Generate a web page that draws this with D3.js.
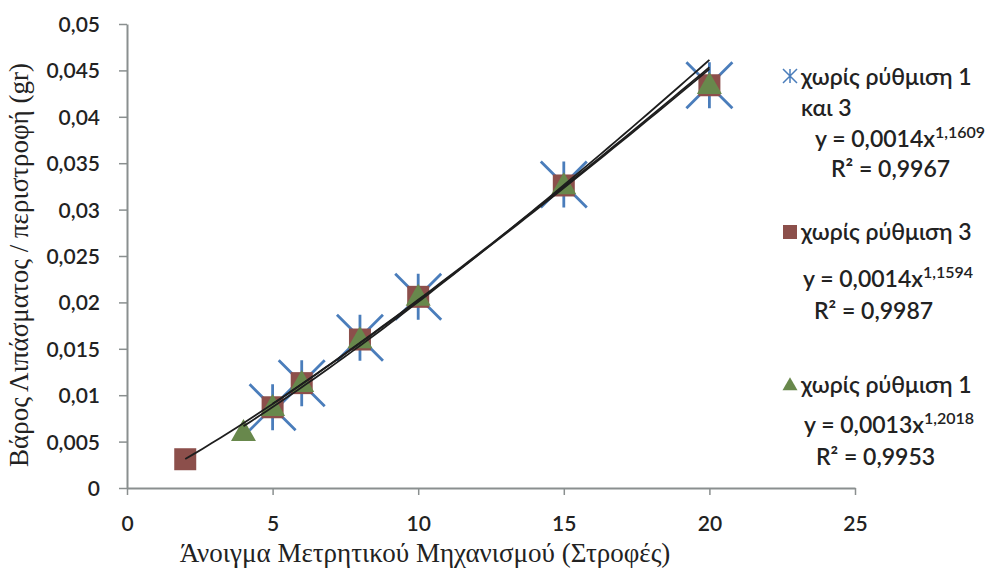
<!DOCTYPE html>
<html>
<head>
<meta charset="utf-8">
<script src="https://cdn.jsdelivr.net/npm/d3@7/dist/d3.min.js"></script>
<style>
  body { margin: 0; background: #ffffff; }
  svg { display: block; }
</style>
</head>
<body>
<script>
// Application rate per revolution vs. metering opening (turns)
const seriesNames = ["χωρίς ρύθμιση 1 και 3", "χωρίς ρύθμιση 3", "χωρίς ρύθμιση 1"];

const xBoth = [5, 6, 8, 10, 15, 20];
const yBoth = [0.0087, 0.0113, 0.0162, 0.0206, 0.0327, 0.0434];

const xNo3 = [2, 5, 6, 8, 10, 15, 20];
const yNo3 = [0.0031, 0.0087, 0.0113, 0.0160, 0.0206, 0.0326, 0.0434];

const xNo1 = [4, 5, 6, 8, 10, 15, 20];
const yNo1 = [0.0060, 0.0087, 0.0113, 0.0160, 0.0206, 0.0326, 0.0434];

// Power trendlines y = a * x^b
const fitA = [0.0014, 0.0014, 0.00126];
const fitB = [1.1609, 1.1594, 1.2018];
const fitR2 = [0.9967, 0.9987, 0.9953];

const xTicks = [0, 5, 10, 15, 20, 25];
const xTickLabels = ["0", "5", "10", "15", "20", "25"];
const yTicks = [0, 0.005, 0.01, 0.015, 0.02, 0.025, 0.03, 0.035, 0.04, 0.045, 0.05];
const yTickLabels = ["0", "0,005", "0,01", "0,015", "0,02", "0,025", "0,03", "0,035", "0,04", "0,045", "0,05"];

const xTitle = "Άνοιγμα Μετρητικού Μηχανισμού (Στροφές)";
const yTitle = "Βάρος Λιπάσματος / περιστροφή (gr)";

const W = 985, H = 569;
const plot = { left: 127, right: 855, top: 24, bottom: 488 };

const colStar = "#4a7dbb", colSquare = "#8c4f4b", colTri = "#68884c";
const axisCol = "#8a8f8f", textCol = "#222222";
const sansFont = "Lato, 'Open Sans', sans-serif";
const serifFont = "'Liberation Serif', 'DejaVu Serif', serif";

const svg = d3.select("body").append("svg").attr("width", W).attr("height", H);

const x = d3.scaleLinear().domain([0, 25]).range([plot.left, plot.right]);
const y = d3.scaleLinear().domain([0, 0.05]).range([plot.bottom, plot.top]);

// Axes
const xAxis = d3.axisBottom(x).tickValues(xTicks).tickFormat((d, i) => xTickLabels[i]).tickSize(7).tickSizeOuter(0);
const yAxis = d3.axisLeft(y).tickValues(yTicks).tickFormat((d, i) => yTickLabels[i]).tickSize(8).tickSizeOuter(0);

const gx = svg.append("g").attr("transform", `translate(0,${plot.bottom})`).call(xAxis);
const gy = svg.append("g").attr("transform", `translate(${plot.left},0)`).call(yAxis);

[gx, gy].forEach(g => {
  g.select(".domain").attr("stroke", axisCol).attr("stroke-width", 2);
  g.selectAll(".tick line").attr("stroke", axisCol).attr("stroke-width", 1.5);
  g.selectAll(".tick text")
    .attr("fill", textCol)
    .style("font-family", sansFont)
    .style("font-size", "21px")
    .style("font-weight", "600");
});
gx.selectAll(".tick text").attr("dy", "0").attr("y", 43);
gy.selectAll(".tick text").attr("x", -27).attr("dy", "0.36em");

// Axis titles
svg.append("text")
  .attr("x", 425).attr("y", 562)
  .attr("text-anchor", "middle")
  .attr("fill", textCol)
  .style("font-family", serifFont)
  .style("font-size", "27px")
  .text(xTitle);

svg.append("text")
  .attr("transform", "translate(28,265) rotate(-90)")
  .attr("text-anchor", "middle")
  .attr("fill", textCol)
  .style("font-family", serifFont)
  .style("font-size", "27px")
  .text(yTitle);

// Marker shapes
const starPath = r => `M${-r},${-r}L${r},${r}M${r},${-r}L${-r},${r}M0,${-r}L0,${r}`;
const squarePath = s => `M${-s/2},${-s/2}h${s}v${s}h${-s}Z`;
const triPath = (w, h) => `M0,${-h*0.6}L${w/2},${h*0.4}L${-w/2},${h*0.4}Z`;

const gMarks = svg.append("g");

gMarks.selectAll("path.star").data(d3.zip(xBoth, yBoth)).join("path")
  .attr("class", "star")
  .attr("transform", d => `translate(${x(d[0])},${y(d[1])})`)
  .attr("d", starPath(23))
  .attr("stroke", colStar).attr("stroke-width", 2.8).attr("fill", "none");

gMarks.selectAll("path.sq").data(d3.zip(xNo3, yNo3)).join("path")
  .attr("class", "sq")
  .attr("transform", d => `translate(${x(d[0])},${y(d[1])})`)
  .attr("d", squarePath(22))
  .attr("fill", colSquare);

gMarks.selectAll("path.tri").data(d3.zip(xNo1, yNo1)).join("path")
  .attr("class", "tri")
  .attr("transform", d => `translate(${x(d[0])},${y(d[1])})`)
  .attr("d", triPath(25, 22))
  .attr("fill", colTri);

// Trendlines over each series' x-range
const xRanges = [d3.extent(xBoth), d3.extent(xNo3), d3.extent(xNo1)];
const line = d3.line().x(d => x(d[0])).y(d => y(d[1]));
xRanges.forEach((ext, i) => {
  const pts = d3.range(0, 61).map(k => {
    const xv = ext[0] + (ext[1] - ext[0]) * k / 60;
    return [xv, fitA[i] * Math.pow(xv, fitB[i])];
  });
  svg.append("path").datum(pts).attr("d", line)
    .attr("fill", "none").attr("stroke", "#1e1e1e").attr("stroke-width", 1.8);
});

// Legend with trendline equations
const fmtNum = (v, d) => v.toFixed(d).replace(".", ",");
const legend = svg.append("g")
  .style("font-family", sansFont).style("font-size", "23px").style("font-weight", "600")
  .attr("fill", textCol);

const legendRows = [
  { markY: 76, nameLines: ["χωρίς ρύθμιση 1", "και 3"], nameY: [77, 108], eqY: 139, eqX: 815, r2Y: 169, r2X: 831 },
  { markY: 232, nameLines: ["χωρίς ρύθμιση 3"], nameY: [232], eqY: 279, eqX: 803, r2Y: 311, r2X: 814 },
  { markY: 385, nameLines: ["χωρίς ρύθμιση 1"], nameY: [385], eqY: 425, eqX: 804, r2Y: 457, r2X: 816 }
];

legendRows.forEach((row, i) => {
  const mk = legend.append("path").attr("transform", `translate(790,${row.markY})`);
  if (i === 0) mk.attr("d", starPath(7)).attr("stroke", colStar).attr("stroke-width", 1.5).attr("fill", "none");
  if (i === 1) mk.attr("d", squarePath(14)).attr("fill", colSquare);
  if (i === 2) mk.attr("d", triPath(15, 13)).attr("fill", colTri);

  row.nameLines.forEach((t, k) => {
    legend.append("text").attr("x", 801).attr("y", row.nameY[k]).attr("dy", "0.35em").text(t);
  });

  const eq = legend.append("text").attr("x", row.eqX).attr("y", row.eqY).attr("dy", "0.35em");
  eq.append("tspan").text(`y = ${fmtNum(fitA[i], 4)}x`);
  eq.append("tspan").attr("dy", "-0.55em").style("font-size", "16px").text(fmtNum(fitB[i], 4));

  legend.append("text").attr("x", row.r2X).attr("y", row.r2Y).attr("dy", "0.35em")
    .text(`R² = ${fmtNum(fitR2[i], 4)}`);
});
</script>
</body>
</html>
